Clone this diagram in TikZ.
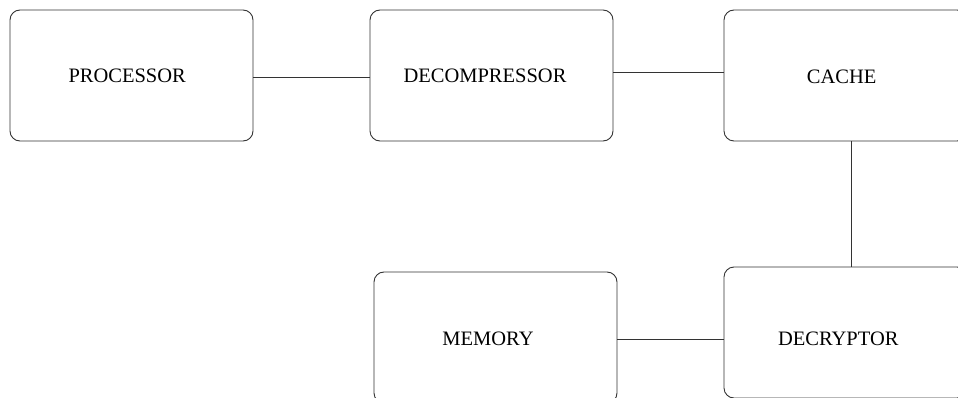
\documentclass[tikz,border=0pt]{standalone}
\usepackage{fontspec}
\setmainfont{Liberation Serif}
\tikzset{
    block/.style =  {rectangle,
                    rounded corners=10pt,
                    fill=white,
                    draw=black!80,
                    line width=0.9pt,
                    minimum width=243pt,
                    minimum height=131pt},
    caption/.style = {inner sep=0pt,
                    text=black,
                    font=\fontsize{20.5}{24}\selectfont},
    wire/.style =   {draw=black!80,
                    line width=0.9pt},
    -}

\begin{document}
\begin{tikzpicture}
                \useasboundingbox (0,0) rectangle (958pt,-398pt);
                \clip (0,0) rectangle (958pt,-398pt);
                % boxes
                \node[block]    (proc)    at (131.5pt,-75.5pt)                   {};
                \node[block]    (decomp)  [right of=proc, node distance=360pt]   {};
                \node[block]    (cache)   [right of=decomp, node distance=354pt] {};
                \node[block]    (decrypt) [below of=cache, node distance=257pt]  {};
                \node[block]    (mem)     [left of=decrypt, node distance=350pt, yshift=-5pt] {};
                % names, set a little left of centre
                \node[caption]  (procT)    at ([xshift=-4.3pt,yshift=-0.7pt]proc.center)    {PROCESSOR};
                \node[caption]  (decompT)  at ([xshift=-6.5pt,yshift=-0.5pt]decomp.center)  {DECOMPRESSOR};
                \node[caption]  (cacheT)   at ([xshift=-3.8pt,yshift=-1.2pt]cache.center)   {CACHE};
                \node[caption]  (decryptT) at ([xshift=-7.2pt,yshift=-5.9pt]decrypt.center) {DECRYPTOR};
                \node[caption]  (memT)     at ([xshift=-7.5pt,yshift=-0.9pt]mem.center)     {MEMORY};
                \path [wire]    ([yshift=-1.5pt]proc.east) -- ([yshift=-1.5pt]proc.east -| decomp.west)
                                ([yshift=2.8pt]decomp.east) -- ([yshift=2.8pt]decomp.east -| cache.west)
                                ([xshift=5.5pt]cache.south) -- ([xshift=5.5pt]cache.south |- decrypt.north)
                                ([yshift=-1.5pt]mem.east) -- ([yshift=-1.5pt]mem.east -| decrypt.west);
        \end{tikzpicture}
\end{document}
